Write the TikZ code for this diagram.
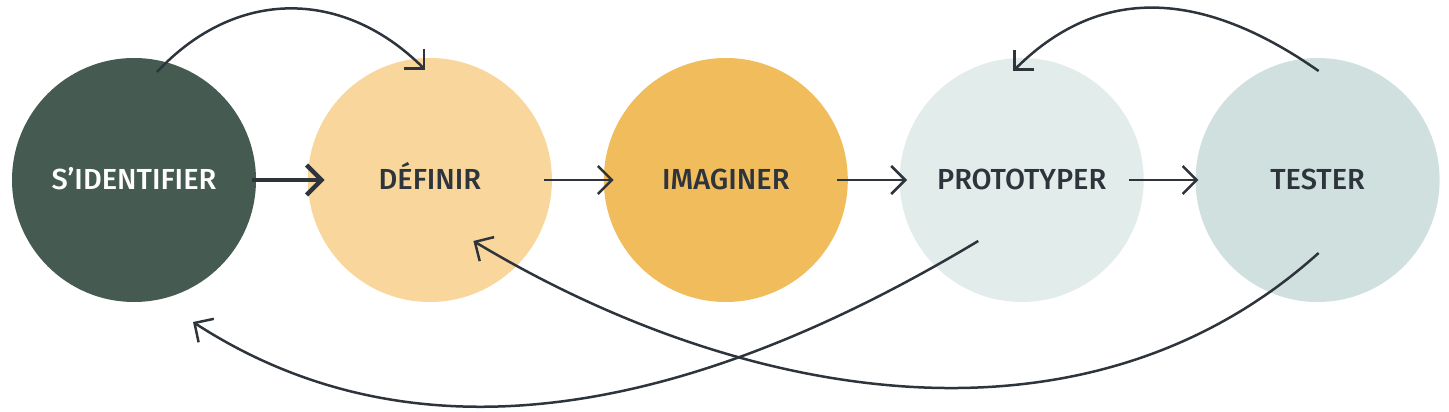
\documentclass[tikz,border=0pt]{standalone}
\usepackage{fontspec}
\setmainfont{Fira Sans}[UprightFont=* Medium]
\usepackage{tikz}
\usetikzlibrary{arrows.meta, positioning}
\definecolor{ink}{RGB}{46,52,59}
\definecolor{sidgreen}{RGB}{69,91,82}
\definecolor{defpeach}{RGB}{248,214,156}
\definecolor{imaorange}{RGB}{241,188,92}
\definecolor{prolight}{RGB}{226,236,234}
\definecolor{teslight}{RGB}{207,224,223}

\begin{document}
\begin{tikzpicture}[
    x=1pt, y=1pt,
    font=\fontsize{29}{34}\selectfont,
    phase/.style={circle, minimum size=244pt, inner sep=0pt, text=ink, text height=20pt, text depth=0pt},
    arrow/.style={-{Straight Barb[length=14pt, width=28pt]}, line width=2.5pt, ink},
    bigarrow/.style={-{Straight Barb[length=15pt, width=30pt]}, line width=4.5pt, ink}
]
\useasboundingbox (0,0) rectangle (1449,412);

% Phases
\node[phase, fill=sidgreen, text=white] (sid) at (134,232) {S’IDENTIFIER};
\node[phase, fill=defpeach, right=51.5pt of sid] (def) {DÉFINIR};
\node[phase, fill=imaorange, right=51.5pt of def] (ima) {IMAGINER};
\node[phase, fill=prolight, right=51.5pt of ima] (pro) {PROTOTYPER};
\node[phase, fill=teslight, right=51.5pt of pro] (tes) {TESTER};

% Arrows - main flow
\draw[bigarrow] ([xshift=-4pt]sid.east) -- ([xshift=17pt]def.west);
\draw[arrow] ([xshift=-8pt]def.east) -- ([xshift=10pt]ima.west);
\draw[arrow] ([xshift=-11pt]ima.east) -- ([xshift=7.5pt]pro.west);
\draw[arrow] ([xshift=-15pt]pro.east) -- ([xshift=3pt]tes.west);

% Arrows - loops back
\draw[arrow] ([shift={(23,108)}]sid.center) to[out=47, in=135, looseness=1.1] ([shift={(-4.5,110)}]def.center);
\draw[arrow] ([shift={(1,109)}]tes.center) to[out=145, in=45, looseness=1.1] ([shift={(-8.5,109)}]pro.center);
\draw[arrow] ([shift={(-43.5,-61)}]pro.center) to[out=211, in=327, looseness=0.95] ([shift={(59,-142)}]sid.center);
\draw[arrow] ([shift={(1,-73)}]tes.center) to[out=222, in=329, looseness=0.95] ([shift={(43.5,-61)}]def.center);

\end{tikzpicture}
\end{document}
